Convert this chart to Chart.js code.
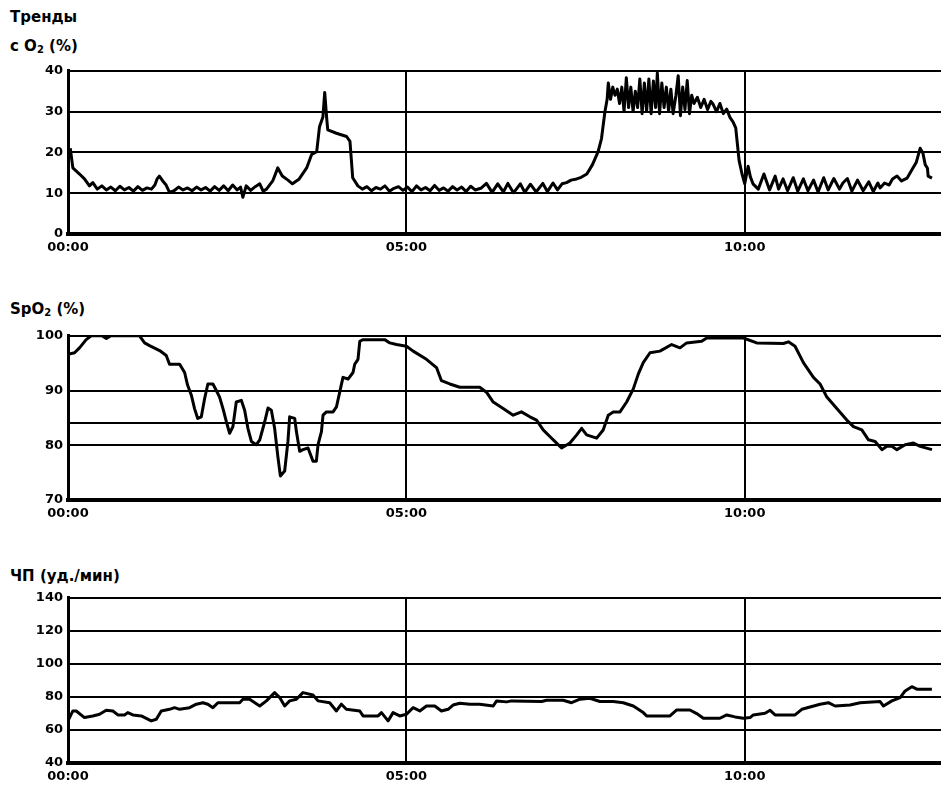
<!DOCTYPE html>
<html>
<head>
<meta charset="utf-8">
<script src="https://cdn.jsdelivr.net/npm/chart.js@4.4.1/dist/chart.umd.min.js"></script>
<style>
  body { margin: 0; background: #fff; width: 941px; height: 788px; overflow: hidden; position: relative; }
  .ttl { position: absolute; left: 10px; font: bold 15px "DejaVu Sans", sans-serif; color: #000; line-height: 18px; white-space: nowrap; }
  .ttl sub { font-size: 10px; vertical-align: -2px; line-height: 0; }
  canvas { position: absolute; left: 0; }
</style>
</head>
<body>
<div class="ttl" style="top:8px">Тренды</div>
<div class="ttl" style="top:37px">c O<sub>2</sub> (%)</div>
<div class="ttl" style="top:300px">SpO<sub>2</sub> (%)</div>
<div class="ttl" style="top:567px">ЧП (уд./мин)</div>
<canvas id="c1" width="941" height="202" style="top:58px"></canvas>
<canvas id="c2" width="941" height="203" style="top:323px"></canvas>
<canvas id="c3" width="941" height="203" style="top:585px"></canvas>
<script>
// time in minutes from 00:00
const xTicks = [0, 300, 600];
const xMax = 774;

const o2Ticks = [0, 10, 20, 30, 40];
const spo2Ticks = [70, 80, 84, 90, 100];
const hrTicks = [40, 60, 80, 100, 120, 140];

const o2Time = [2, 4.3, 10.2, 14.6, 19, 22, 26, 30, 34, 38, 42, 46, 50, 54, 58, 62, 66, 70, 74, 77, 79, 81, 84, 87, 90,
  94, 98, 102, 106, 110, 114, 118, 122, 126, 130, 134, 138, 142, 146, 150, 153, 155, 158, 162, 166, 170, 173, 176,
  181.5, 186, 190, 195, 199, 205, 211.6, 216, 220.5, 223, 226, 227.6, 229.4, 230.3, 238, 247, 250, 252.4, 257,
  261, 265, 269, 273, 277, 281, 285, 289, 293, 297, 301, 305, 309, 313, 317, 321, 325, 329, 333, 337, 341, 345, 349, 353, 357,
  361, 366, 371, 376, 381, 386, 390, 395, 401, 405, 410, 415, 421, 425, 430, 434, 438, 442, 446, 451, 455, 460, 465, 470, 473, 476, 478,
  479, 481, 483, 485, 487, 489, 491, 493, 495, 497, 499, 501, 503, 505, 507, 509, 511, 513, 515, 517, 519, 521, 522.5, 524.5,
  526.5, 528.5, 530.5, 532.5, 534.5, 536.5, 539, 541, 543, 545, 547, 549, 551, 553, 555, 558, 561, 564, 567, 570, 572, 575,
  578, 581, 584, 587, 589.6, 592, 593.5, 595, 597.6, 600, 603, 605, 607.3,
  612, 617, 622, 627, 630, 634, 638, 643, 647, 652, 656, 661, 665, 670, 674, 679, 684, 687, 691, 695, 700, 705, 710, 714, 718, 720,
  724, 728, 731, 735, 739, 744, 749, 752, 755.5, 758, 760, 762, 762.6, 766];
const o2Vals = [21, 16.2, 14.7, 13.5, 11.8, 12.6, 11, 11.8, 10.8, 11.5, 10.6, 11.7, 10.8, 11.4, 10.5, 11.6, 10.7, 11.3, 11, 12, 13.5, 14.2, 13, 12, 10.2,
  10.6, 11.5, 10.8, 11.3, 10.6, 11.5, 10.8, 11.4, 10.5, 11.6, 10.7, 11.8, 10.6, 12, 10.8, 11.5, 9, 11.8, 10.7, 11.6, 12.3, 10.5, 11,
  13, 16.2, 14.2, 13.2, 12.3, 13.5, 16.2, 19.5, 20.2, 26.3, 28.7, 34.7, 28.2, 25.5, 24.7, 23.9, 22.7, 13.8, 11.8,
  11, 11.6, 10.6, 11.4, 11, 11.8, 10.5, 11.2, 11.6, 10.7, 11.5, 10.4, 11.8, 10.8, 11.4, 10.6, 11.9, 10.7, 11.3, 10.5, 11.6, 10.8, 11.5, 10.4, 11.7,
  10.8, 11.2, 12.4, 10.2, 12.3, 10.3, 12.4, 10.1, 12.3, 10.2, 12.2, 10.3, 12.4, 10.4, 12.5, 10.8, 12.3, 12.6, 13.2, 13.5, 13.9, 14.7, 17, 20.2, 23.4, 29.9, 33,
  37, 33, 36, 34, 35.5, 32, 36, 30, 38.3, 31, 36, 30, 35, 31, 38, 29.5, 37, 30, 38, 29.5, 37.5, 31, 39.5, 29.5,
  37, 31, 36, 30, 35.5, 29.5, 34, 38.8, 29, 36, 30.5, 37.6, 29.5, 34, 32, 33.5, 31, 33, 30.5, 32.5, 31.8, 30,
  32, 29.5, 30.6, 28.5, 27.5, 26, 22, 18, 14.7, 12.3, 16.6, 14, 12.3,
  11, 14.7, 10.8, 14.2, 11, 13.5, 10.6, 13.8, 10.5, 13.5, 10.6, 13.2, 10.3, 13.8, 10.8, 13.6, 11, 12.5, 13.6, 10.5, 13.2, 10.6, 12.8, 10.4, 12.5, 11.3,
  12.5, 12, 13.5, 14.2, 13, 13.7, 16.1, 17.5, 21, 19.8, 17, 16.1, 14.2, 13.7];

const spo2Time = [0, 5.8, 10.2, 16.1, 20.6, 30, 34, 38, 63.4, 67.9, 72.3, 81.2, 87.1, 90, 99, 103.4, 106, 109.3, 112.2, 115, 118.2,
  121.1, 124, 128.5, 131.5, 134.4, 137.4, 140.4, 143.3, 146.2, 149.2, 153.7, 156.6, 159.5, 162.6, 167, 170, 174.4, 177.3,
  180.3, 183.2, 186.2, 188.3, 192.1, 195, 196.5, 201, 202.5, 205.4, 208.3, 212.8, 217.2, 220.2, 221.7, 224.7, 226.1, 229.1,
  235, 238, 240.9, 243.8, 248.3, 252.7, 254.2, 257.1, 258.7, 261.6, 280.8, 285.3, 291.2, 300.1, 306, 317.8, 326.7, 331.1,
  338.5, 347.4, 359.2, 365, 371, 377, 385.8, 394.7, 402, 409.5, 415.4, 421.3, 427.2, 433.2, 437.6, 445, 451, 455.4, 459.8,
  468.7, 474.5, 479, 483.4, 489.4, 495.3, 501.2, 505.6, 510, 516, 524.8, 535.2, 542.6, 548.5, 561.8, 566.3, 598.8, 610.6,
  634.3, 638.7, 644.6, 652, 660.9, 666.8, 672.8, 681.6, 690.5, 696.4, 703.8, 709.7, 715.6, 721.6, 726, 730.4, 734.9, 742.2,
  749.6, 755.6, 766];
const spo2Vals = [96.6, 96.9, 97.8, 99.3, 100, 100, 99.5, 100, 100, 98.7, 98.2, 97.3, 96.4, 94.8, 94.8, 93.3, 91, 89.2, 86.7, 84.9, 85.2,
  88.5, 91.2, 91.2, 90, 88.8, 86.7, 84.3, 82.2, 83.4, 87.9, 88.2, 86.4, 83.1, 80.7, 80.1, 81, 84.3, 86.8,
  86.4, 83.1, 77.7, 74.4, 75.3, 80.7, 85.2, 84.9, 82.5, 78.9, 79.2, 79.5, 77.1, 77.1, 80.1, 82.5, 85.5, 86.1,
  86.1, 87, 89.7, 92.4, 92.1, 93.3, 94.8, 95.7, 99, 99.3, 99.3, 98.7, 98.4, 98.1, 97.2, 95.7, 94.2, 91.8,
  91.2, 90.6, 90.6, 90.6, 89.7, 87.9, 86.7, 85.5, 86.1, 85.2, 84.6, 82.8, 81.6, 80.4, 79.5, 80.4, 81.9, 83.1, 81.9,
  81.3, 82.8, 85.5, 86.1, 86.1, 87.9, 90.3, 93, 95.1, 96.9, 97.2, 98.4, 97.8, 98.7, 99, 99.6, 99.6, 98.7,
  98.6, 98.9, 98.1, 95.1, 92.4, 91.2, 88.8, 86.7, 84.6, 83.4, 82.8, 81, 80.7, 79.2, 79.8, 79.8, 79.2, 80.1,
  80.4, 79.8, 79.2];

const hrTime = [0, 4.3, 7.3, 14.6, 22, 28, 33.9, 39.8, 44.2, 50.1, 53, 57.5, 65, 73.8, 78.3, 82.7, 90, 94.5, 99, 107.8, 113.8,
  119.6, 124, 128.5, 132.9, 152.2, 155.1, 161, 170, 175.9, 183.2, 187.7, 192.1, 196.5, 202.5, 208.3, 217.2, 221.7, 232,
  238, 242.4, 246.8, 258.7, 261.6, 274.9, 277.9, 283.8, 288.2, 294.1, 300.1, 306, 311.9, 317.8, 325.2, 331.1, 337, 341.4,
  347.4, 356.3, 365, 377, 380, 388.8, 393.3, 419.9, 424.3, 439, 446.5, 453.9, 462.7, 471.6, 483.4, 492.3, 501.2, 510, 513,
  533.7, 539.7, 551.4, 557.4, 563.3, 578, 584, 591.4, 598.8, 604.7, 607.6, 618, 622.5, 626.9, 644.6, 650.6, 657.9, 666.8,
  674.2, 680.1, 693.4, 702.3, 720, 723, 730.4, 737.8, 742.2, 748.1, 752.6, 765.9];
const hrVals = [65.5, 71.5, 71.5, 67.5, 68.5, 69.5, 71.9, 71.5, 69.1, 69.1, 70.5, 69.1, 68.5, 65.5, 66.5, 71.5, 72.5, 73.5, 72.5, 73.5, 75.6,
  76.5, 75.6, 73.5, 76.5, 76.5, 78.6, 78.6, 74.5, 77.6, 82.6, 79.6, 74.5, 77.6, 78.6, 82.6, 81.2, 77.6, 76.5,
  71.5, 75.6, 72.5, 71.5, 68.5, 68.5, 70.5, 65.5, 70.5, 68.5, 69.5, 73.5, 71.5, 74.5, 74.5, 71.5, 72.5, 75.1,
  76.2, 75.6, 75.6, 74.5, 77.6, 77, 77.6, 77.2, 78, 78, 76.5, 78.6, 79.2, 77.2, 77.2, 76.5, 74.5, 70.5, 68.5,
  68.5, 72.1, 72.1, 69.9, 67.1, 67.1, 69.1, 67.9, 67.1, 67.5, 69.1, 70.1, 71.9, 69.1, 69.1, 72.5, 73.9, 75.6,
  76.5, 74.5, 75.1, 76.5, 77.2, 74.5, 77.6, 79.6, 83.6, 86.2, 84.7, 84.7];

const tickFont = { family: 'DejaVu Sans', size: 13, weight: 'bold' };

function hhmm(v) {
  const h = Math.floor(v / 60), m = Math.round(v % 60);
  return String(h).padStart(2, '0') + ':' + String(m).padStart(2, '0');
}

function makeChart(id, times, vals, yTicks, noLabel, xHeight) {
  const pts = times.map((t, i) => ({ x: t, y: vals[i] }));
  return new Chart(document.getElementById(id), {
    type: 'line',
    data: {
      datasets: [{
        data: pts,
        borderColor: '#000',
        borderWidth: 3,
        borderJoinStyle: 'round',
        pointRadius: 0,
        tension: 0,
        fill: false
      }]
    },
    options: {
      responsive: false,
      animation: false,
      devicePixelRatio: 1,
      layout: { padding: { top: 10, left: 0, right: 0, bottom: 0 } },
      plugins: { legend: { display: false }, tooltip: { enabled: false } },
      scales: {
        x: {
          type: 'linear',
          min: 0,
          max: xMax,
          afterBuildTicks: s => { s.ticks = xTicks.map(v => ({ value: v })); },
          afterFit: s => { s.height = xHeight; },
          ticks: { color: '#000', font: tickFont, padding: 6, maxRotation: 0, callback: v => hhmm(v) },
          grid: { color: '#000', lineWidth: 2, drawTicks: false },
          border: { display: true, color: '#000', width: 4 }
        },
        y: {
          min: yTicks[0],
          max: yTicks[yTicks.length - 1],
          afterBuildTicks: s => { s.ticks = yTicks.map(v => ({ value: v })); },
          afterFit: s => { s.width = 68; },
          ticks: { color: '#000', font: tickFont, padding: 5, callback: v => (noLabel.includes(v) ? '' : String(v)) },
          grid: { color: '#000', lineWidth: 2, drawTicks: false },
          border: { display: true, color: '#000', width: 3 }
        }
      }
    }
  });
}

makeChart('c1', o2Time, o2Vals, o2Ticks, [], 26);
makeChart('c2', spo2Time, spo2Vals, spo2Ticks, [84], 26);
makeChart('c3', hrTime, hrVals, hrTicks, [], 25);
</script>
</body>
</html>
